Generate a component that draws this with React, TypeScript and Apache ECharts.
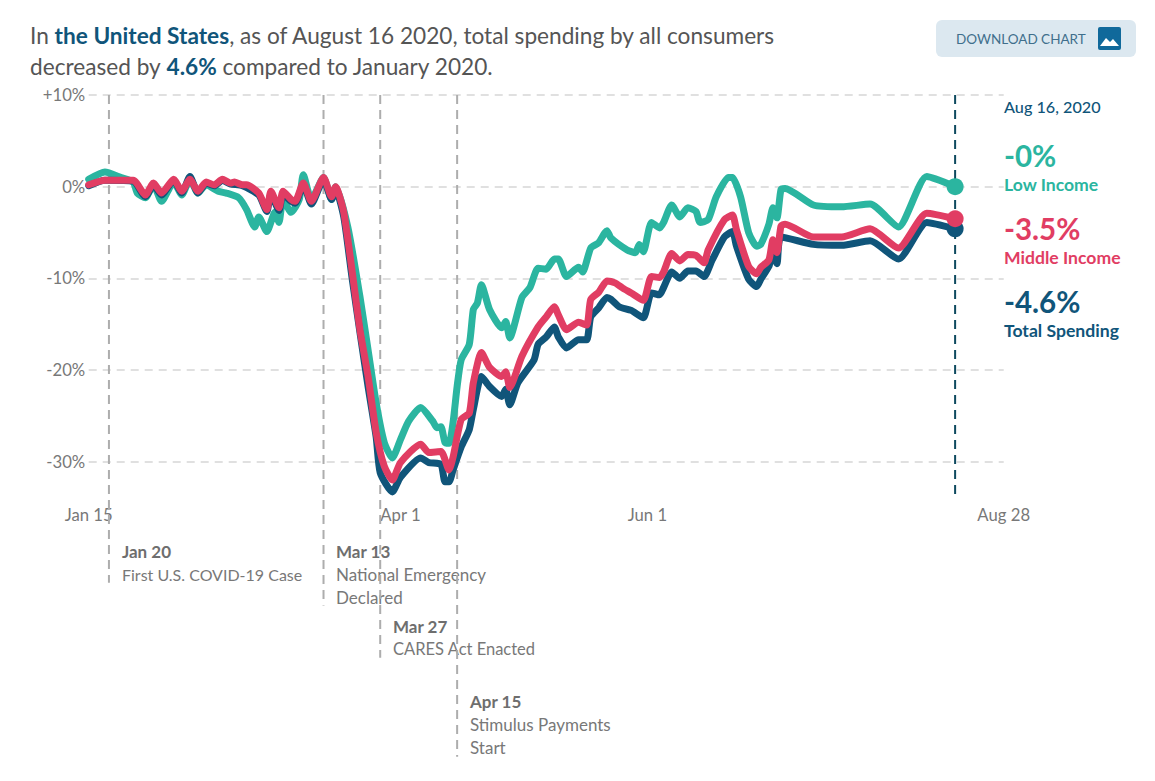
import React, { useEffect, useRef } from "react";
import * as echarts from "echarts";

// x values are days since Jan 15 2020; y values are percent change vs January 2020
const lowDays = [0,4,8,11,12,14,16,18,21,23,25,27,29,32,34,37,39,41,42,44,46,47,48,50,52,53,55,58,60,61,64,67,69,71,73,75,77,79,82,85,86,87,88,89,90,91,92,94,95,96,97,99,102,103,104,107,109,111,113,115,116,118,121,122,124,126,128,129,133,135,136,137,139,141,142,144,146,148,150,151,153,155,158,159,161,163,165,166,168,169,170,171,172,179,186,193,200,207,214];
const lowValues = [0.8,1.6,1.0,0.5,-0.7,-1.2,0.2,-1.6,0.5,-0.9,0.8,-0.7,0.2,-0.5,-0.7,-1.2,-2.5,-4.4,-3.3,-4.9,-2.8,-3.9,-1.4,-2.8,-1.4,1.3,-1.4,1.0,-1.4,0,-4.4,-12,-17.8,-23.6,-27.9,-29.6,-27.6,-25.6,-24.1,-25.6,-26.3,-26.2,-27.9,-28,-25.7,-21.8,-18.9,-17.2,-13.4,-12.7,-10.7,-13.4,-15.4,-14.7,-16.5,-12.1,-11,-8.9,-9,-7.9,-7.9,-9.8,-8.8,-9.3,-6.7,-6.1,-4.8,-5.6,-6.9,-7.2,-6.3,-7.1,-3.9,-4.5,-3.9,-2,-3.3,-2.3,-2.7,-3.9,-3.6,-1.1,1,1,-1.1,-5,-6.5,-6.3,-4.1,-2.3,-3.4,-0.3,-0.2,-2,-2.2,-1.9,-4.4,1.1,0];

const middleDays = [0,4,11,14,16,18,21,23,25,27,29,31,33,35,36,38,39,42,44,45,47,48,50,51,53,55,58,60,61,63,65,67,69,71,73,75,77,82,84,87,89,90,92,94,95,97,99,102,103,104,107,111,113,115,116,118,121,123,124,126,128,130,132,134,137,139,141,142,144,146,148,150,152,153,157,159,160,163,165,166,168,169,170,171,172,179,186,193,200,207,214];
const middleValues = [0.2,0.7,0.7,-0.9,0.4,-0.7,0.8,-0.5,0.8,-0.5,0.5,0.2,0.8,0.4,0.5,0.2,0.2,-0.7,-2.5,-0.5,-2.3,-0.5,-1.4,-1.6,0.4,-1.6,1,-1.1,0,-2.8,-9,-15.6,-20.7,-26.8,-30.5,-32,-30.1,-28.1,-29,-28.9,-30.9,-29.5,-25.4,-24.7,-21.4,-18.1,-19.7,-20.7,-20.2,-21.9,-18.5,-15.3,-14.2,-13.1,-14,-15.6,-14.8,-15.1,-12.3,-11.5,-10.3,-10.5,-11.1,-11.6,-12.4,-9.8,-9.9,-9.3,-7.3,-8.1,-7.4,-7.5,-8.3,-6.9,-3.6,-3.1,-4.7,-8.7,-9.5,-8.8,-8,-5.8,-7.2,-4.3,-4.1,-5.5,-5.5,-4.6,-6.7,-2.9,-3.5];

const totalDays = [0,4,11,14,16,18,21,23,25,27,29,31,33,35,38,42,44,45,47,48,50,51,53,55,58,60,61,63,65,67,69,71,72,75,77,82,84,87,88,89,90,92,94,95,97,99,102,103,104,106,110,111,113,115,116,118,121,123,124,126,128,129,131,134,137,139,141,142,144,146,148,150,152,154,157,159,160,163,165,166,168,169,170,171,179,186,193,200,207,214];
const totalValues = [0.1,0.7,0.6,-1.1,0.2,-0.9,0.7,-0.7,1.1,-0.7,0.4,0.1,0.7,0.3,0.1,-0.9,-2.7,-0.8,-2.6,-0.8,-1.6,-1.8,0.2,-1.9,0.8,-1.4,-0.3,-3.3,-9.8,-15.9,-21.8,-27.3,-31.2,-33.3,-31.7,-29.6,-30.1,-30.3,-32.2,-32.2,-30.9,-28.4,-26.5,-24.3,-20.7,-21.8,-22.9,-22.1,-23.8,-21.4,-18.9,-17.2,-16.4,-15.3,-16.4,-17.6,-16.7,-16.7,-14.2,-13.2,-12.1,-12.3,-13.1,-13.5,-14.3,-11.6,-11.8,-11,-9.3,-10,-9.2,-9.2,-9.8,-8,-5.5,-4.9,-6.5,-10.1,-10.9,-10.1,-8.7,-7.2,-8.4,-5.5,-6.3,-6.4,-5.9,-7.9,-3.9,-4.6];

const xTickDays = [0, 77, 138, 226];
const xTickLabels = ["Jan 15", "Apr 1", "Jun 1", "Aug 28"];
const eventDays = [5, 58, 72, 91];
const eventLineEnds = [-43.2, -45.7, -51.4, -62.2];
const latestDay = 214;

const TEAL = "#2bb5a0";
const RED = "#e13d63";
const NAVY = "#10557a";
const FONT = "Lato";
const GREY = "#787878";

const zip = (xs: number[], ys: number[]) => xs.map((x, i) => [x, ys[i]]);

const lineSeries = (name: string, color: string, xs: number[], ys: number[], z: number) => ({
  name,
  type: "line",
  data: zip(xs, ys),
  symbol: "none",
  smooth: 0.2,
  z,
  lineStyle: { color, width: 7, join: "round", cap: "round" },
  silent: true,
});

const endDot = (color: string, xs: number[], ys: number[], z: number) => ({
  type: "scatter",
  data: [[xs[xs.length - 1], ys[ys.length - 1]]],
  symbol: "circle",
  symbolSize: 17,
  itemStyle: { color, opacity: 1 },
  z,
  silent: true,
});

const refLine = (day: number, bottom: number, color: string, width: number, z: number) => ({
  type: "line",
  data: [[day, 10], [day, bottom]],
  symbol: "none",
  clip: false,
  z,
  silent: true,
  lineStyle: { color, width, type: [9, 6] },
});

const text = (x: number, y: number, t: string, fill: string, size: number, weight: string | number = 400) => ({
  type: "text",
  x,
  y,
  silent: true,
  style: { text: t, fill, font: `${weight} ${size}px ${FONT}`, verticalAlign: "middle" },
});

echarts.graphic.registerShape(
  "mountainIcon",
  echarts.graphic.extendPath("M2 19L8 11L12 15L15 12L21 19Z", {})
);

export default function App() {
  const ref = useRef<HTMLDivElement>(null);
  useEffect(() => {
    const chart = echarts.init(ref.current!, null, { renderer: "svg" });
    chart.setOption({
      animation: false,
      backgroundColor: "#fff",
      title: {
        left: 25,
        top: 15,
        text: "{a|In }{b|the United States}{a|, as of August 16 2020, total spending by all consumers}\n{a|decreased by }{b|4.6%}{a| compared to January 2020.}",
        textStyle: {
          fontWeight: "normal",
          rich: {
            a: { fontFamily: FONT, fontSize: 22.65, fontWeight: 400, color: "#555", lineHeight: 31 },
            b: { fontFamily: FONT, fontSize: 22.65, fontWeight: 700, color: NAVY, lineHeight: 31 },
          },
        },
      },
      grid: { left: 88.7, width: 915, top: 95, height: 458.3, containLabel: false },
      xAxis: {
        type: "value",
        min: 0,
        max: 226,
        offset: -55,
        axisLine: { show: false },
        axisTick: { show: false },
        splitLine: { show: false },
        axisLabel: {
          customValues: xTickDays,
          formatter: (v: number) => xTickLabels[xTickDays.indexOf(v)] ?? "",
          color: GREY,
          fontFamily: FONT,
          fontSize: 16.7,
          margin: 8,
        },
      },
      yAxis: {
        type: "value",
        min: -40,
        max: 10,
        interval: 10,
        axisLine: { show: false },
        axisTick: { show: false },
        splitLine: { show: true, showMinLine: false, lineStyle: { color: "#e0e0e0", width: 2, type: [8, 6] } },
        axisLabel: {
          showMinLabel: false,
          formatter: (v: number) => (v > 0 ? `+${v}%` : `${v}%`),
          color: GREY,
          fontFamily: FONT,
          fontSize: 16.7,
          margin: 3.5,
        },
      },
      series: [
        ...eventDays.map((d, i) => refLine(d, eventLineEnds[i], "#adadad", 2, 1)),
        refLine(latestDay, -33.6, "#0e4a5f", 2, 1),
        lineSeries("Low Income", TEAL, lowDays, lowValues, 3),
        lineSeries("Total Spending", NAVY, totalDays, totalValues, 4),
        lineSeries("Middle Income", RED, middleDays, middleValues, 5),
        endDot(TEAL, lowDays, lowValues, 6),
        endDot(NAVY, totalDays, totalValues, 6),
        endDot(RED, middleDays, middleValues, 7),
      ],
      graphic: [
        text(122, 551, "Jan 20", "#6e6e6e", 17, 700),
        text(122, 574, "First U.S. COVID-19 Case", GREY, 16),
        text(336, 551, "Mar 13", "#6e6e6e", 17, 700),
        text(336, 574, "National Emergency", GREY, 17),
        text(336, 597, "Declared", GREY, 17),
        text(393, 626, "Mar 27", "#6e6e6e", 17, 700),
        text(393, 649, "CARES Act Enacted", GREY, 16.5),
        text(470, 701, "Apr 15", "#6e6e6e", 17, 700),
        text(470, 724, "Stimulus Payments", GREY, 17),
        text(470, 747, "Start", GREY, 17),
        text(1004, 106, "Aug 16, 2020", NAVY, 16.2, 500),
        text(1004, 155, "-0%", TEAL, 29.5, 700),
        text(1004, 184, "Low Income", TEAL, 17.6, 700),
        text(1004, 228, "-3.5%", RED, 29.5, 700),
        text(1004, 257, "Middle Income", RED, 17.6, 700),
        text(1004, 301, "-4.6%", NAVY, 29.5, 700),
        text(1004, 330, "Total Spending", NAVY, 17.6, 700),
        { type: "rect", shape: { x: 936, y: 20, width: 200, height: 37, r: 6 }, style: { fill: "#dce8f0" }, silent: true },
        text(956, 39, "DOWNLOAD CHART", "#3f6f8c", 13.5),
        { type: "rect", shape: { x: 1098, y: 27, width: 23, height: 23, r: 2 }, style: { fill: "#10699b" }, silent: true },
        { type: "mountainIcon", x: 1098, y: 27, style: { fill: "#fff" }, silent: true },
      ],
    });
    return () => chart.dispose();
  }, []);
  return <div ref={ref} style={{ position: "absolute", left: 0, top: 0, width: 1155, height: 781 }} />;
}
